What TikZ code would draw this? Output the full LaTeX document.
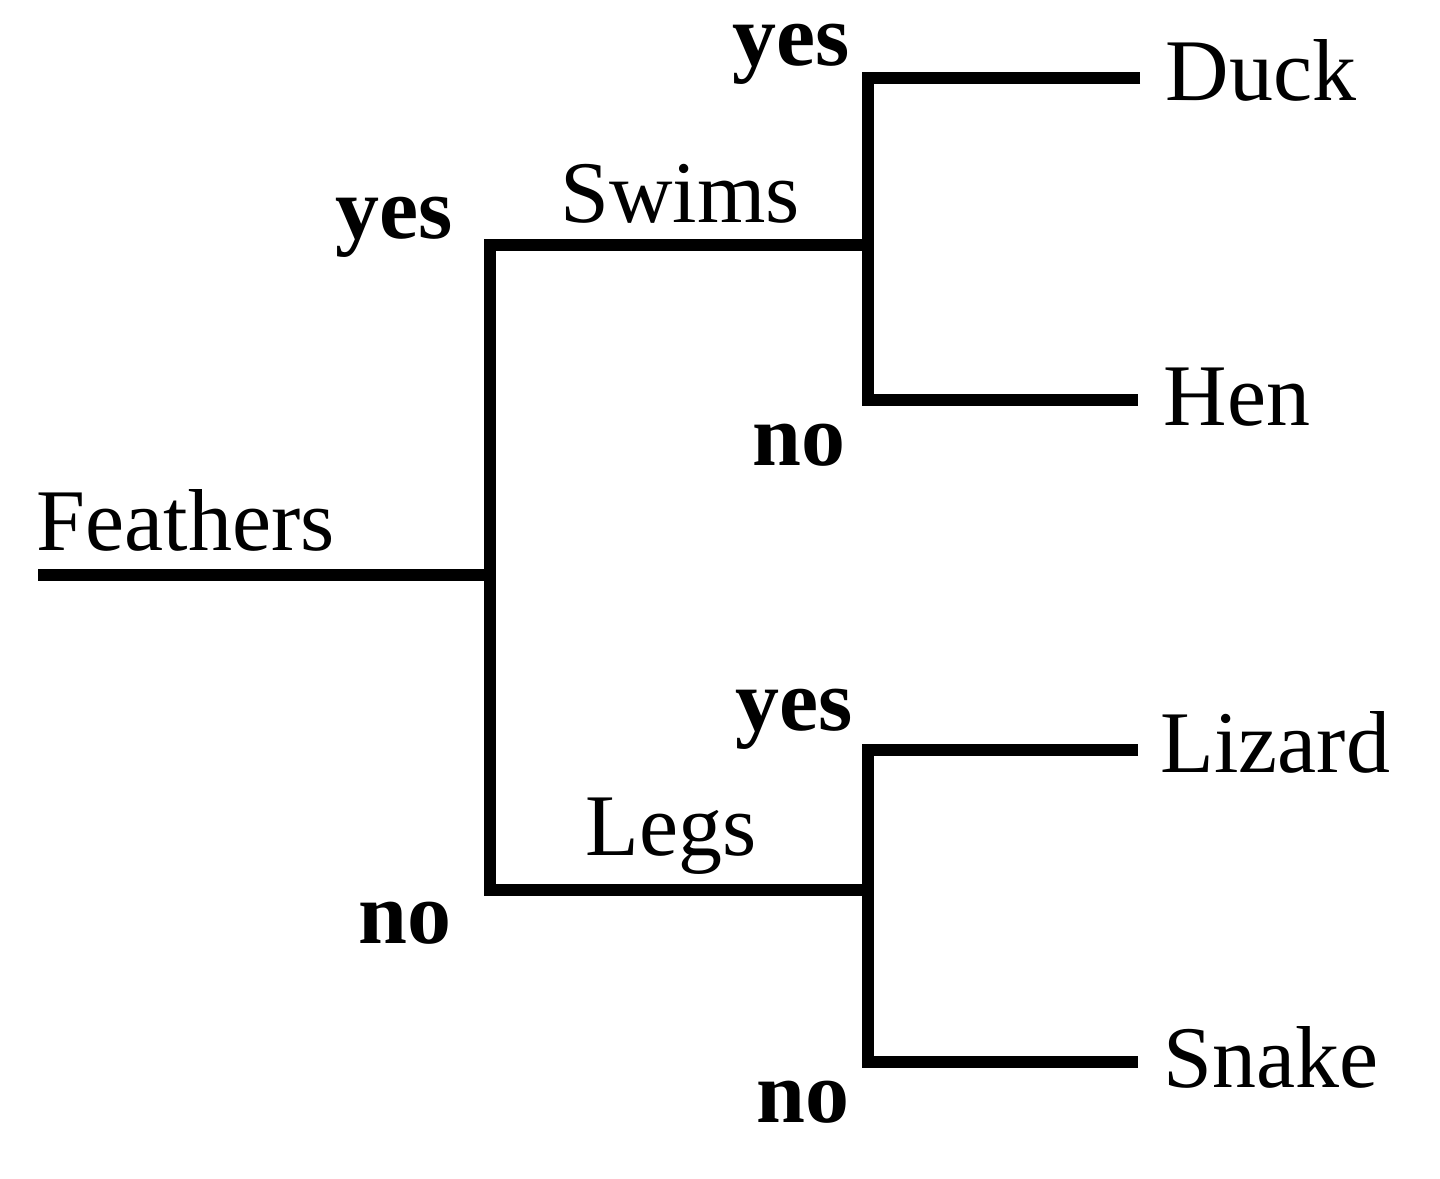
\documentclass[tikz,border=0pt]{standalone}
\usepackage{fontspec}
\setmainfont{Liberation Serif}
\begin{document}
\begin{tikzpicture}[x=0.01cm,y=-0.01cm,
  branch/.style={line width=0.12cm, line cap=butt, line join=miter},
  leaf/.style={anchor=base west, inner sep=0pt, font=\fontsize{25}{30}\selectfont},
  attr/.style={anchor=base, inner sep=0pt, font=\fontsize{25}{30}\selectfont},
  ans/.style={anchor=base, inner sep=0pt, font=\fontsize{25}{30}\selectfont\bfseries}]
\useasboundingbox (0,0) rectangle (1440,1178);
% tree points
\coordinate (root) at (38,575);
\coordinate (f) at (490,575);
\coordinate (s) at (490,245);
\coordinate (l) at (490,890);
\coordinate (sw) at (868,245);
\coordinate (lg) at (868,890);
\coordinate (d) at (868,78);
\coordinate (h) at (868,400);
\coordinate (lz) at (868,750);
\coordinate (sn) at (868,1062);
\coordinate (dEnd) at (1140,78);
\coordinate (hEnd) at (1138,400);
\coordinate (lzEnd) at (1138,750);
\coordinate (snEnd) at (1138,1062);
% branches
\draw[branch] (root) -- (f);
\draw[branch] (sw) -- (s) -- (l) -- (lg);
\draw[branch] (dEnd) -- (d) -- (h) -- (hEnd);
\draw[branch] (lzEnd) -- (lz) -- (sn) -- (snEnd);
% leaves
\node[leaf] (duck) at (1165,100) {Duck};
\node[leaf] (hen) at (1163,425) {Hen};
\node[leaf] (lizard) at (1160,772) {Lizard};
\node[leaf] (snake) at (1163,1087) {Snake};
% attributes
\node[leaf] (feathers) at (36,550) {Feathers};
\node[attr] (swims) at (680,222) {Swims};
\node[attr] (legs) at (671,855) {Legs};
% answers
\node[ans] (y1) at (791,65) {yes};
\node[ans] (y2) at (394,238) {yes};
\node[ans] (n1) at (799,465) {no};
\node[ans] (y3) at (794,730) {yes};
\node[ans] (n2) at (405,943) {no};
\node[ans] (n3) at (803,1122) {no};
\end{tikzpicture}
\end{document}
